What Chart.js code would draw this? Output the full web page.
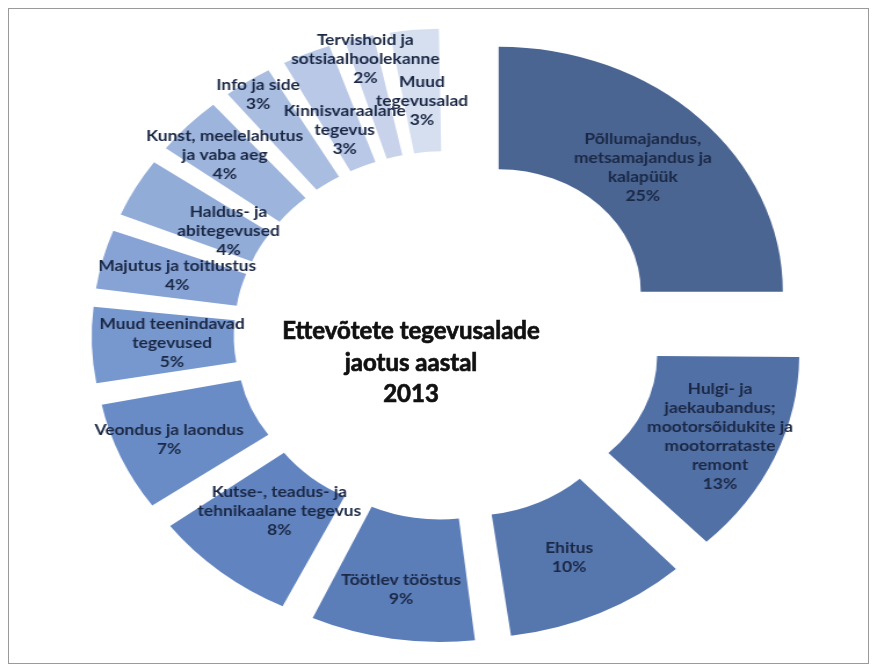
<!DOCTYPE html>
<html>
<head>
<meta charset="utf-8">
<script src="https://cdn.jsdelivr.net/npm/chart.js@4"></script>
<style>
  body { margin: 0; background: #fff; }
  #frame { position: absolute; left: 8px; top: 8px; width: 859px; height: 654px; border: 1px solid #9a9a9a; }
  /* the original doughnut is stretched wider than it is tall */
  #wrap { position: absolute; left: 0; top: 0; width: 757px; height: 671px; transform: scaleX(1.16); transform-origin: 0 0; }
  #title { position: absolute; left: 211px; top: 314px; width: 400px; text-align: center;
           font-family: Lato, sans-serif; font-weight: 700; font-size: 24px; line-height: 31.5px;
           color: #111; -webkit-text-stroke: 0.7px #111; }
</style>
</head>
<body>
<div id="frame"></div>
<div id="wrap"><canvas id="chart"></canvas></div>
<div id="title"></div>
<script>
// kategooriad (ridade kaupa nagu joonisel)
const categories = [
    ['Põllumajandus,', 'metsamajandus ja', 'kalapüük'],
    ['Hulgi- ja', 'jaekaubandus;', 'mootorsõidukite ja', 'mootorrataste', 'remont'],
    ['Ehitus'],
    ['Töötlev tööstus'],
    ['Kutse-, teadus- ja', 'tehnikaalane tegevus'],
    ['Veondus ja laondus'],
    ['Muud teenindavad', 'tegevused'],
    ['Majutus ja toitlustus'],
    ['Haldus- ja', 'abitegevused'],
    ['Kunst, meelelahutus', 'ja vaba aeg'],
    ['Info ja side'],
    ['Kinnisvaraalane', 'tegevus'],
    ['Tervishoid ja', 'sotsiaalhoolekanne'],
    ['Muud', 'tegevusalad']
];
const values = [25, 13, 10, 9, 8, 7, 5, 4, 4, 4, 3, 3, 2, 3];
const titleLines = ['Ettevõtete tegevusalade', 'jaotus aastal', '2013'];

const colors = ['#4a6592', '#5170a6', '#5676ae', '#5b7db8', '#6184c0', '#6a8cc6', '#7798ce',
                '#87a3d5', '#92acd8', '#9db4dc', '#a9bde1', '#b8c8e6', '#c8d3eb', '#d6dff0'];
// radial nudge of each label (px), like the hand placed labels in the original
const labelShift = [-8, 10, 0, 12, -18, 16, -8, -5, -30, 18, 45, -22, 40, -10];

const EXPLODE = 62; // how far each slice is pulled out
const total = values.reduce((a, b) => a + b, 0);

// Chart.js moves a slice by offset/4*(2-sin(angle)), so solve for an even pull
function sliceOffset(ctx) {
    const circ = values[ctx.dataIndex] / total * Math.PI * 2;
    return 4 * EXPLODE / (2 - Math.sin(Math.min(Math.PI, circ)));
}

const sliceLabels = {
    id: 'sliceLabels',
    afterDatasetsDraw(chart) {
        const ctx = chart.ctx;
        const arcs = chart.getDatasetMeta(0).data;
        ctx.save();
        ctx.fillStyle = '#1b2845';
        ctx.font = 'bold 15px Lato';
        ctx.textAlign = 'center';
        ctx.textBaseline = 'middle';
        arcs.forEach((arc, i) => {
            const p = arc.getProps(['x', 'y', 'startAngle', 'endAngle', 'innerRadius', 'outerRadius'], true);
            const mid = (p.startAngle + p.endAngle) / 2;
            const r = (p.innerRadius + p.outerRadius) / 2 + EXPLODE + labelShift[i];
            const lines = categories[i].concat([values[i] + '%']);
            const cx = p.x + Math.cos(mid) * r;
            const cy = p.y + Math.sin(mid) * r;
            const lh = 19;
            lines.forEach((t, j) => {
                ctx.fillText(t, cx, cy + (j - (lines.length - 1) / 2) * lh);
            });
        });
        ctx.restore();
    }
};

document.addEventListener('DOMContentLoaded', function() {
    // pealkiri keskel
    const titleEl = document.getElementById('title');
    titleLines.forEach(t => {
        const d = document.createElement('div');
        d.textContent = t;
        titleEl.appendChild(d);
    });

    const ctxChart = document.getElementById('chart').getContext('2d');
    new Chart(ctxChart, {
        type: 'doughnut',
        data: {
            labels: categories,
            datasets: [{
                data: values,
                backgroundColor: colors,
                borderWidth: 0,
                offset: sliceOffset,
                hoverOffset: 0
            }]
        },
        options: {
            responsive: true,
            maintainAspectRatio: false,
            animation: false,
            radius: 245,
            cutout: '50%',
            layout: { padding: { left: 15 } },
            plugins: {
                legend: { display: false },
                tooltip: { enabled: false }
            }
        },
        plugins: [sliceLabels]
    });
});
</script>
</body>
</html>
